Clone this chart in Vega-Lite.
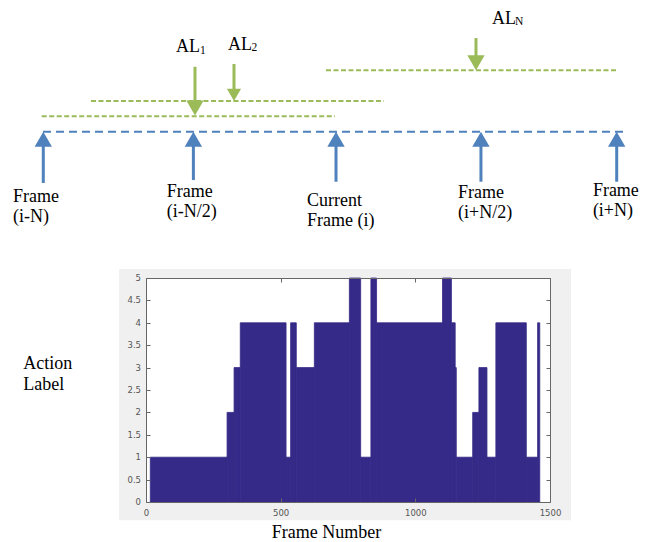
{
  "$schema": "https://vega.github.io/schema/vega-lite/v6.json",
  "width": 404,
  "height": 224,
  "autosize": {"type": "none"},
  "padding": {"left": 146, "top": 278, "right": 100, "bottom": 40},
  "background": "white",
  "config": {
    "view": {"stroke": null},
    "axis": {
      "grid": false,
      "tickSize": -4,
      "tickColor": "#666666",
      "tickWidth": 1,
      "domainColor": "#666666",
      "domainWidth": 1,
      "labelFont": "DejaVu Sans",
      "labelFontSize": 8.5,
      "labelColor": "#555555",
      "labelPadding": 9,
      "labelFlush": false,
      "labelOverlap": false,
      "titleFont": "Liberation Serif",
      "titleFontSize": 18,
      "titleFontWeight": "normal",
      "titleColor": "#000000"
    }
  },
  "datasets": {
    "dlines": [
      {"kind": "blue", "x": -100.0, "x2": 103.4, "lvl": 0},
      {"kind": "green", "x": -100.45, "x2": 1.74, "lvl": 1},
      {"kind": "green", "x": -83.28, "x2": 18.82, "lvl": 2},
      {"kind": "green", "x": -1.39, "x2": 100.35, "lvl": 4}
    ],
    "frames": [
      {"frame": "i-N", "x": -99.9, "base": -3.34, "tip": 0},
      {"frame": "i-N/2", "x": -47.6, "base": -3.15, "tip": 0},
      {"frame": "i", "x": 2.1, "base": -3.26, "tip": 0},
      {"frame": "i+N/2", "x": 52.6, "base": -3.26, "tip": 0},
      {"frame": "i+N", "x": 99.9, "base": -3.26, "tip": 0}
    ],
    "flabels": [
      {"text": "Frame\n(i-N)", "x": -110.45, "lvl": -4.58},
      {"text": "Frame\n(i-N/2)", "x": -56.9, "lvl": -4.27},
      {"text": "Current\nFrame (i)", "x": -8.0, "lvl": -4.84},
      {"text": "Frame\n(i+N/2)", "x": 44.6, "lvl": -4.34},
      {"text": "Frame\n(i+N)", "x": 91.6, "lvl": -4.19}
    ],
    "alarrows": [
      {"name": "AL1", "x": -47.04, "top": 4.23, "tip": 1.05},
      {"name": "AL2", "x": -33.45, "top": 4.41, "tip": 2.0},
      {"name": "ALN", "x": 50.87, "top": 6.10, "tip": 4.0}
    ],
    "altext": [
      {"text": "AL", "x": -53.66, "lvl": 5.17},
      {"text": "AL", "x": -35.54, "lvl": 5.32},
      {"text": "AL", "x": 56.45, "lvl": 7.02}
    ],
    "alsub": [
      {"text": "1", "x": -45.3, "lvl": 5.09},
      {"text": "2", "x": -27.35, "lvl": 5.24},
      {"text": "N", "x": 64.46, "lvl": 6.98}
    ],
    "panel": [{"x": -100, "x2": 1578, "y": -0.41, "y2": 5.2}],
    "plotarea": [{"x": 0, "x2": 1500, "y": 0, "y2": 5}],
    "yticks": [
      {"v": 0}, {"v": 0.5}, {"v": 1}, {"v": 1.5}, {"v": 2}, {"v": 2.5},
      {"v": 3}, {"v": 3.5}, {"v": 4}, {"v": 4.5}, {"v": 5}
    ],
    "segments": [
      {"start": 16, "end": 301, "label": 1},
      {"start": 301, "end": 327, "label": 2},
      {"start": 327, "end": 350, "label": 3},
      {"start": 350, "end": 520, "label": 4},
      {"start": 520, "end": 537, "label": 1},
      {"start": 537, "end": 558, "label": 4},
      {"start": 558, "end": 625, "label": 3},
      {"start": 625, "end": 755, "label": 4},
      {"start": 755, "end": 797, "label": 5},
      {"start": 797, "end": 835, "label": 1},
      {"start": 835, "end": 856, "label": 5},
      {"start": 856, "end": 1101, "label": 4},
      {"start": 1101, "end": 1134, "label": 5},
      {"start": 1134, "end": 1148, "label": 4},
      {"start": 1148, "end": 1152, "label": 3},
      {"start": 1152, "end": 1213, "label": 1},
      {"start": 1213, "end": 1236, "label": 2},
      {"start": 1236, "end": 1266, "label": 3},
      {"start": 1266, "end": 1299, "label": 1},
      {"start": 1299, "end": 1412, "label": 4},
      {"start": 1412, "end": 1454, "label": 1},
      {"start": 1454, "end": 1462, "label": 4}
    ]
  },
  "layer": [
    {
      "layer": [
        {
          "data": {"name": "dlines"},
          "mark": {"type": "rule", "strokeWidth": 2},
          "encoding": {
            "x": {"field": "x", "type": "quantitative", "scale": {"domain": [-64.11, 76.66], "nice": false, "zero": false}, "axis": null},
            "x2": {"field": "x2"},
            "y": {"field": "lvl", "type": "quantitative", "scale": {"domain": [-24.124, -9.531], "nice": false, "zero": false}, "axis": null},
            "color": {"field": "kind", "type": "nominal", "scale": {"domain": ["blue", "green"], "range": ["#4F81BD", "#9BBB59"]}, "legend": null},
            "strokeDash": {"field": "kind", "type": "nominal", "scale": {"domain": ["blue", "green"], "range": [[8, 5], [5, 2.5]]}, "legend": null}
          }
        },
        {
          "data": {"name": "frames"},
          "mark": {"type": "rule", "strokeWidth": 3, "color": "#4F81BD", "y2Offset": 10},
          "encoding": {
            "x": {"field": "x", "type": "quantitative", "scale": {"domain": [-64.11, 76.66], "nice": false, "zero": false}, "axis": null},
            "y": {"field": "base", "type": "quantitative", "scale": {"domain": [-24.124, -9.531], "nice": false, "zero": false}, "axis": null},
            "y2": {"field": "tip"}
          }
        },
        {
          "data": {"name": "frames"},
          "mark": {"type": "point", "shape": "triangle-up", "size": 300, "filled": true, "opacity": 1, "color": "#4F81BD", "yOffset": 7.5, "strokeWidth": 0},
          "encoding": {
            "x": {"field": "x", "type": "quantitative", "scale": {"domain": [-64.11, 76.66], "nice": false, "zero": false}, "axis": null},
            "y": {"field": "tip", "type": "quantitative", "scale": {"domain": [-24.124, -9.531], "nice": false, "zero": false}, "axis": null}
          }
        },
        {
          "data": {"name": "alarrows"},
          "mark": {"type": "rule", "strokeWidth": 3, "color": "#9BBB59", "y2Offset": -9},
          "encoding": {
            "x": {"field": "x", "type": "quantitative", "scale": {"domain": [-64.11, 76.66], "nice": false, "zero": false}, "axis": null},
            "y": {"field": "top", "type": "quantitative", "scale": {"domain": [-24.124, -9.531], "nice": false, "zero": false}, "axis": null},
            "y2": {"field": "tip"}
          }
        },
        {
          "data": {"name": "alarrows"},
          "transform": [{"filter": "datum.name !== 'AL2'"}],
          "mark": {"type": "point", "shape": "triangle-down", "size": 300, "filled": true, "opacity": 1, "color": "#9BBB59", "yOffset": -7.5, "strokeWidth": 0},
          "encoding": {
            "x": {"field": "x", "type": "quantitative", "scale": {"domain": [-64.11, 76.66], "nice": false, "zero": false}, "axis": null},
            "y": {"field": "tip", "type": "quantitative", "scale": {"domain": [-24.124, -9.531], "nice": false, "zero": false}, "axis": null}
          }
        },
        {
          "data": {"name": "alarrows"},
          "transform": [{"filter": "datum.name === 'AL2'"}],
          "mark": {"type": "point", "shape": "triangle-down", "size": 200, "filled": true, "opacity": 1, "color": "#9BBB59", "yOffset": -6.1, "strokeWidth": 0},
          "encoding": {
            "x": {"field": "x", "type": "quantitative", "scale": {"domain": [-64.11, 76.66], "nice": false, "zero": false}, "axis": null},
            "y": {"field": "tip", "type": "quantitative", "scale": {"domain": [-24.124, -9.531], "nice": false, "zero": false}, "axis": null}
          }
        },
        {
          "data": {"name": "flabels"},
          "mark": {"type": "text", "align": "left", "baseline": "alphabetic", "font": "Liberation Serif", "fontSize": 18, "lineBreak": "\n", "lineHeight": 20, "color": "#000000"},
          "encoding": {
            "x": {"field": "x", "type": "quantitative", "scale": {"domain": [-64.11, 76.66], "nice": false, "zero": false}, "axis": null},
            "y": {"field": "lvl", "type": "quantitative", "scale": {"domain": [-24.124, -9.531], "nice": false, "zero": false}, "axis": null},
            "text": {"field": "text"}
          }
        },
        {
          "data": {"name": "altext"},
          "mark": {"type": "text", "align": "left", "baseline": "alphabetic", "font": "Liberation Serif", "fontSize": 18, "color": "#000000"},
          "encoding": {
            "x": {"field": "x", "type": "quantitative", "scale": {"domain": [-64.11, 76.66], "nice": false, "zero": false}, "axis": null},
            "y": {"field": "lvl", "type": "quantitative", "scale": {"domain": [-24.124, -9.531], "nice": false, "zero": false}, "axis": null},
            "text": {"field": "text"}
          }
        },
        {
          "data": {"name": "alsub"},
          "mark": {"type": "text", "align": "left", "baseline": "alphabetic", "font": "Liberation Serif", "fontSize": 11.5, "color": "#000000"},
          "encoding": {
            "x": {"field": "x", "type": "quantitative", "scale": {"domain": [-64.11, 76.66], "nice": false, "zero": false}, "axis": null},
            "y": {"field": "lvl", "type": "quantitative", "scale": {"domain": [-24.124, -9.531], "nice": false, "zero": false}, "axis": null},
            "text": {"field": "text"}
          }
        }
      ]
    },
    {
      "layer": [
        {
          "data": {"name": "panel"},
          "mark": {"type": "rect", "color": "#F0F0F0"},
          "encoding": {
            "x": {"field": "x", "type": "quantitative", "scale": {"domain": [0, 1500], "nice": false, "zero": false}, "axis": null},
            "x2": {"field": "x2"},
            "y": {"field": "y", "type": "quantitative", "scale": {"domain": [0, 5], "nice": false, "zero": false}, "axis": null},
            "y2": {"field": "y2"}
          }
        },
        {
          "data": {"name": "plotarea"},
          "mark": {"type": "rect", "color": "#FFFFFF"},
          "encoding": {
            "x": {"field": "x", "type": "quantitative", "scale": {"domain": [0, 1500], "nice": false, "zero": false},
                  "axis": {"orient": "top", "zindex": 2, "values": [0, 500, 1000, 1500], "labels": false, "title": null}},
            "x2": {"field": "x2"},
            "y": {"field": "y", "type": "quantitative", "scale": {"domain": [0, 5], "nice": false, "zero": false},
                  "axis": {"orient": "right", "zindex": 2, "values": [0, 0.5, 1, 1.5, 2, 2.5, 3, 3.5, 4, 4.5, 5], "labels": false, "title": null}},
            "y2": {"field": "y2"}
          }
        },
        {
          "data": {"name": "segments"},
          "mark": {"type": "rect", "color": "#352A87", "stroke": "#352A87", "strokeWidth": 0.8},
          "encoding": {
            "x": {"field": "start", "type": "quantitative", "scale": {"domain": [0, 1500], "nice": false, "zero": false},
                  "axis": {"orient": "bottom", "zindex": 2, "values": [0, 500, 1000, 1500], "format": "d", "labelPadding": 10, "labelOverlap": false,
                           "title": "Frame Number", "titleX": 180, "titleY": 35, "titleBaseline": "alphabetic", "titleAlign": "center"}},
            "x2": {"field": "end"},
            "y": {"field": "label", "type": "quantitative", "scale": {"domain": [0, 5], "nice": false, "zero": false},
                  "axis": {"orient": "left", "zindex": 2, "values": [0, 0.5, 1, 1.5, 2, 2.5, 3, 3.5, 4, 4.5, 5], "labels": false,
                           "title": ["Action", "Label"], "titleAngle": 0, "titleAlign": "left", "titleBaseline": "alphabetic",
                           "titleX": -123.3, "titleY": 90.3, "titleLineHeight": 21.7}},
            "y2": {"datum": 0}
          }
        },
        {
          "data": {"name": "yticks"},
          "mark": {"type": "text", "align": "right", "baseline": "middle", "xOffset": -5, "font": "DejaVu Sans", "fontSize": 8.5, "color": "#555555"},
          "encoding": {
            "x": {"datum": 0, "type": "quantitative", "scale": {"domain": [0, 1500], "nice": false, "zero": false}, "axis": null},
            "y": {"field": "v", "type": "quantitative", "scale": {"domain": [0, 5], "nice": false, "zero": false}, "axis": null},
            "text": {"field": "v", "type": "quantitative", "format": "~g"}
          }
        }
      ],
      "resolve": {"axis": {"x": "independent", "y": "independent"}}
    }
  ],
  "resolve": {"scale": {"x": "independent", "y": "independent", "color": "independent", "strokeDash": "independent"}}
}
